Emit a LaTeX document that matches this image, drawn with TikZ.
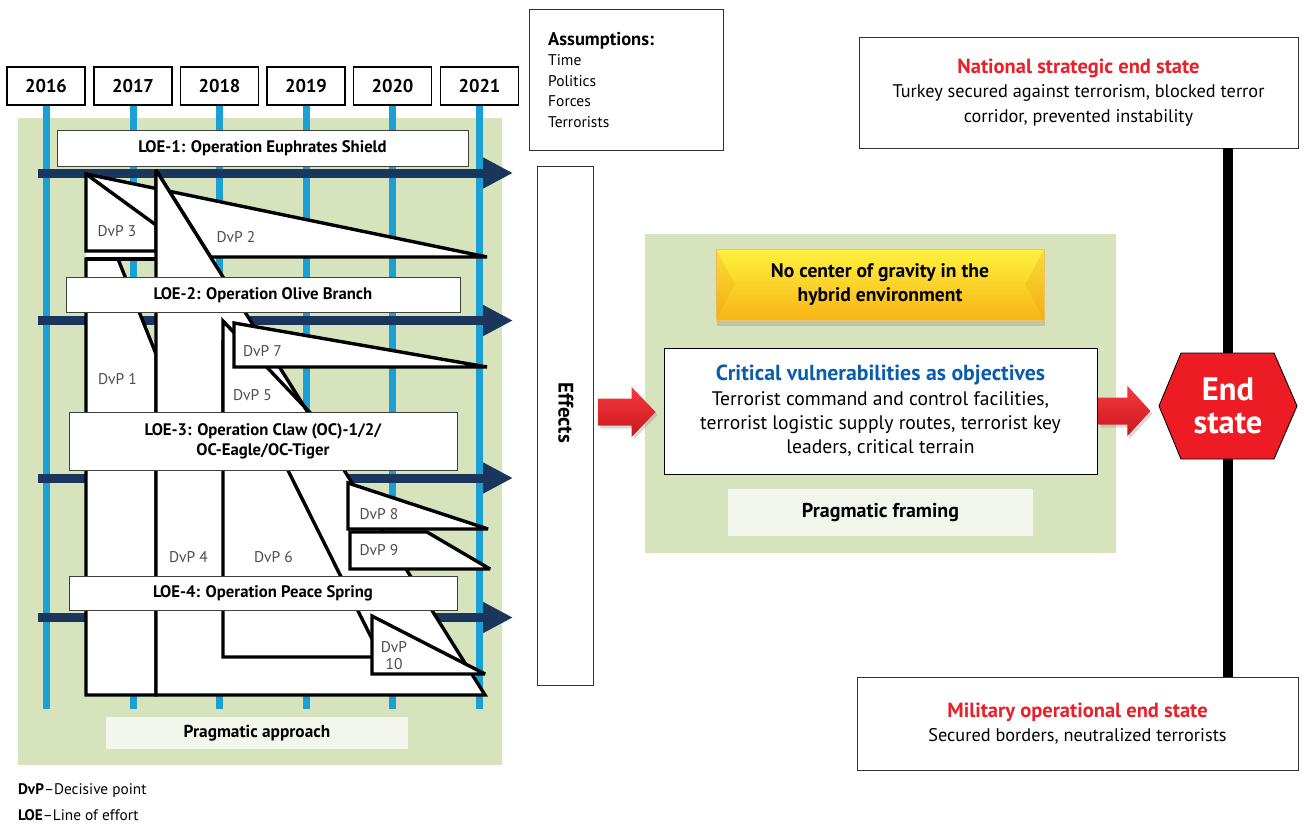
\documentclass[tikz,border=0pt]{standalone}
\usepackage{fontspec}
\setmainfont{PT Sans}
\usetikzlibrary{arrows.meta,shadows,calc}

\definecolor{panelgreen}{HTML}{D7E3BD}
\definecolor{paleband}{HTML}{F3F6EC}
\definecolor{yearline}{HTML}{1BA0D5}
\definecolor{navy}{HTML}{1B365D}
\definecolor{dvpgray}{HTML}{4D4D4D}
\definecolor{titlered}{HTML}{E8202A}
\definecolor{titleblue}{HTML}{0B5CAD}
\definecolor{endred}{HTML}{ED1C24}
\definecolor{redlight}{HTML}{F53A3F}
\definecolor{reddark}{HTML}{C9161D}
\definecolor{goldtop}{HTML}{FFF23E}
\definecolor{goldbot}{HTML}{F7B416}
\definecolor{goldshade}{HTML}{E49A12}

\tikzset{
  yearbox/.style={draw=black, line width=1.4pt, fill=white, minimum width=78pt,
    minimum height=38pt, inner sep=0pt, font=\fontsize{18.5}{20}\selectfont\bfseries},
  loebox/.style={draw=black!75, line width=0.9pt, fill=white, inner sep=0pt,
    align=center, font=\fontsize{16.7}{20}\selectfont\bfseries},
  timeline/.style={draw=yearline, line width=7pt},
  loearrow/.style={draw=navy, line width=9pt, -{Triangle[length=30pt,width=29pt]}},
  dvp/.style={fill=white, draw=black, line width=3.4pt, line join=miter, miter limit=3},
  dvpedge/.style={draw=black, line width=3.4pt, line join=miter, miter limit=3},
  dvplabel/.style={text=dvpgray, inner sep=0pt, align=center,
    font=\fontsize{15.5}{17}\selectfont},
  bandlabel/.style={fill=paleband, inner sep=0pt, font=\fontsize{17.3}{20}\selectfont\bfseries},
  plainbox/.style={draw=black!80, line width=0.9pt, fill=white, inner sep=0pt, align=center},
  blockarrow/.style={top color=redlight, bottom color=reddark,
    drop shadow={shadow xshift=2pt, shadow yshift=-3pt, opacity=0.3}},
}

\begin{document}
\begin{tikzpicture}[x=1pt, y=-1pt]
\useasboundingbox (0,0) rectangle (1305,825);

% ---------- left panel: lines of effort over time ----------
\fill[panelgreen] (18,118) rectangle (502,765);

\foreach \yr/\cx in {2016/46, 2017/133, 2018/219.5, 2019/306, 2020/392.5, 2021/479.5} {
  \node[yearbox] (y\yr) at (\cx,86) {\yr};
  \draw[timeline] (y\yr.south) -- ++(0,603);
}

% lines of effort as navy arrows
\foreach \ly/\nm in {173/a1, 320.5/a2, 478/a3, 617.5/a4} {
  \coordinate (\nm s) at (38,\ly);
  \coordinate (\nm e) at (513,\ly);
  \draw[loearrow] (\nm s) -- (\nm e);
}

% decisive points
\fill[white] (86,250) rectangle (156,260);
\path[dvp] (86,259) -- (118,259) -- (156,354) -- (156,695) -- (86,695) -- cycle;      % DvP 1
\draw[dvpedge] (86,259) -- (156,259);
\path[dvp] (86,174) -- (156,188.5) -- (156,251) -- (86,251) -- cycle;                 % DvP 3
\draw[dvpedge] (86,174) -- (156,225);
\path[dvp] (156,188.5) -- (487,257) -- (210.7,257) -- (156,170) -- cycle;             % DvP 2
\fill[white] (156,170) -- (156,695) -- (485,695) -- cycle;                            % DvP 4 body
\path[dvp] (223,340) -- (223,657) -- (381,657) -- cycle;                              % DvP 6
\path[dvp] (223,321) -- (223,440) -- (336,440) -- cycle;                              % DvP 5
\draw[dvpedge] (156,170) -- (156,695) -- (485,695) -- cycle;                          % DvP 4 outline
\path[dvp] (234,323) -- (487,367) -- (234,367) -- cycle;                              % DvP 7
\path[dvp] (350,532) -- (427,532) -- (490,569) -- (350,569) -- cycle;                 % DvP 9
\path[dvp] (348,483) -- (488,529) -- (348,529) -- cycle;                              % DvP 8
\path[dvp] (372,616) -- (485,674) -- (372,674) -- cycle;                              % DvP 10

\node[dvplabel] (d1) at (117.5,379) {DvP 1};
\node[dvplabel] (d2) at (236,237) {DvP 2};
\node[dvplabel] (d3) at (117,231) {DvP 3};
\node[dvplabel] (d4) at (188.5,557) {DvP 4};
\node[dvplabel] (d5) at (252.5,395) {DvP 5};
\node[dvplabel] (d6) at (273.5,557) {DvP 6};
\node[dvplabel] (d7) at (262.5,351) {DvP 7};
\node[dvplabel] (d8) at (379,514) {DvP 8};
\node[dvplabel] (d9) at (379,550) {DvP 9};
\node[dvplabel] (d10) at (394,655.5) {DvP\\10};

% line-of-effort titles
\node[loebox, minimum width=411pt, minimum height=36pt] (loe1) at (262.5,148) {LOE-1: Operation Euphrates Shield};
\node[loebox, minimum width=394pt, minimum height=35pt] (loe2) at (263,295) {LOE-2: Operation Olive Branch};
\node[loebox, minimum width=388pt, minimum height=58pt] (loe3) at (263,441) {LOE-3: Operation Claw (OC)-1/2/\\OC-Eagle/OC-Tiger};
\node[loebox, minimum width=388pt, minimum height=34pt] (loe4) at (263,593) {LOE-4: Operation Peace Spring};

\node[bandlabel, minimum width=302pt, minimum height=32pt] (approach) at (257,733) {Pragmatic approach};

% legend
\node[anchor=west, inner sep=0pt, font=\fontsize{15.3}{16}\selectfont] (leg1) at (18,791) {\textbf{DvP}–Decisive point};
\node[anchor=west, inner sep=0pt, font=\fontsize{15.3}{16}\selectfont] (leg2) at (18,815) {\textbf{LOE}–Line of effort};

% ---------- assumptions and effects ----------
\node[plainbox, minimum width=194pt, minimum height=141pt, anchor=north west] (assume) at (529,9) {};
\node[anchor=north west, align=left, inner sep=0pt, font=\fontsize{15.5}{20.5}\selectfont]
  (assumetext) at ($(assume.north west)+(19,23)$)
  {{\fontsize{18.5}{20.5}\selectfont\bfseries Assumptions:}\\Time\\Politics\\Forces\\Terrorists};

\node[plainbox, minimum width=56pt, minimum height=519pt] (effects) at (565,425.5) {};
\node[rotate=-90, inner sep=0pt, font=\fontsize{21}{22}\selectfont\bfseries] (effectstext) at (566,413) {Effects};

% ---------- pragmatic framing ----------
\fill[panelgreen] (645,234) rectangle (1116,553);

\node[minimum width=328pt, minimum height=71pt, inner sep=0pt, top color=goldtop, bottom color=goldbot,
  draw=goldshade!60, line width=0.5pt,
  drop shadow={shadow xshift=1pt, shadow yshift=-6pt, opacity=0.3}] (cog) at (880,284.5) {};
\fill[goldshade, opacity=0.22] (cog.north west) -- ($(cog.west)+(19,0)$) -- (cog.south west) -- cycle;
\fill[goldshade, opacity=0.22] (cog.north east) -- ($(cog.east)+(-19,0)$) -- (cog.south east) -- cycle;
\node[align=center, inner sep=0pt, font=\fontsize{19.6}{24}\selectfont\bfseries] (cogtext) at (cog.center)
  {No center of gravity in the\\hybrid environment};

\node[plainbox, draw=black, minimum width=433pt, minimum height=126pt, font=\fontsize{19.6}{24.4}\selectfont] (crit) at (880.5,411)
  {\textcolor{titleblue}{\fontsize{21.8}{24.4}\selectfont\bfseries Critical vulnerabilities as objectives}\\
   Terrorist command and control facilities,\\
   terrorist logistic supply routes, terrorist key\\
   leaders, critical terrain};

\node[bandlabel, minimum width=305pt, minimum height=47pt, font=\fontsize{20}{22}\selectfont\bfseries] (frame) at (880.5,512.5) {Pragmatic framing};

% block arrows
\coordinate (b1s) at ($(effects.east |- crit.west)+(5,1)$);
\coordinate (b1e) at ($(crit.west)+(-8,1)$);
\path[blockarrow] ($(b1s)+(0,-13.5)$) -- ($(b1e)+(-24,-13.5)$) -- ($(b1e)+(-24,-25)$) -- (b1e)
  -- ($(b1e)+(-24,25)$) -- ($(b1e)+(-24,13.5)$) -- ($(b1s)+(0,13.5)$) -- cycle;

% ---------- end states ----------
\node[plainbox, minimum width=439pt, minimum height=111pt, font=\fontsize{18.3}{24.5}\selectfont] (natl) at (1078.5,92.5)
  {\textcolor{titlered}{\fontsize{20.5}{24.5}\selectfont\bfseries National strategic end state}\\
   Turkey secured against terrorism, blocked terror\\
   corridor, prevented instability};
\node[plainbox, minimum width=441pt, minimum height=93pt, font=\fontsize{18.3}{24.5}\selectfont] (mil) at (1077.5,723.5)
  {\textcolor{titlered}{\fontsize{20.5}{24.5}\selectfont\bfseries Military operational end state}\\
   Secured borders, neutralized terrorists};

\coordinate (endc) at (1228,406);
\draw[line width=10pt] (natl.south -| endc) -- (mil.north -| endc);
\filldraw[fill=endred, draw=black, line width=0.9pt]
  ($(endc)+(-69,0)$) -- ($(endc)+(-47,-53)$) -- ($(endc)+(46,-53)$) -- ($(endc)+(69,0)$)
  -- ($(endc)+(46,53)$) -- ($(endc)+(-47,53)$) -- cycle;
\node[align=center, text=white, inner sep=0pt, font=\fontsize{32.5}{33}\selectfont\bfseries] (endstate) at (endc) {End\\state};

\coordinate (b2s) at ($(crit.east)+(1,0)$);
\coordinate (b2e) at ($(endc -| crit.east)+(53,5)$);
\path[blockarrow] ($(b2s)+(0,-13.5)$) -- ($(b2e)+(-23,-13.5)$) -- ($(b2e)+(-23,-25)$) -- (b2e)
  -- ($(b2e)+(-23,25)$) -- ($(b2e)+(-23,13.5)$) -- ($(b2s)+(0,13.5)$) -- cycle;
\end{tikzpicture}
\end{document}
